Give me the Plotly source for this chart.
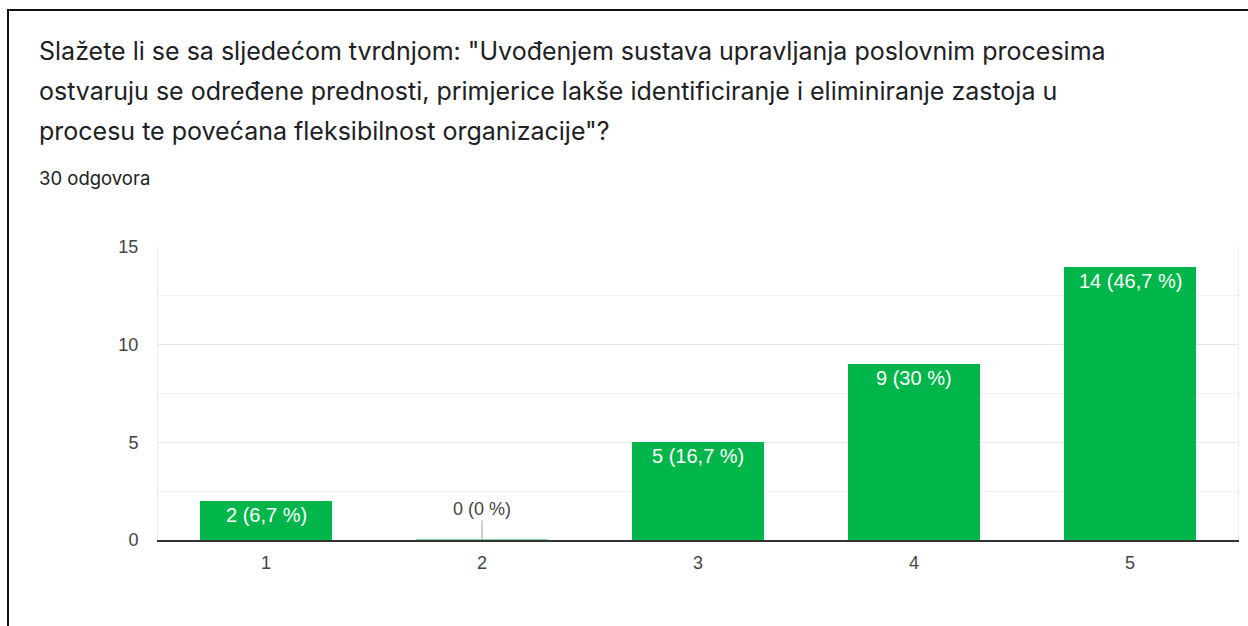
import plotly.graph_objects as go

# Survey responses on a 1–5 agreement scale
categories = [1, 2, 3, 4, 5]
counts = [2, 0, 5, 9, 14]
y_ticks = [0, 5, 10, 15]

title_lines = [
    "Slažete li se sa sljedećom tvrdnjom: \"Uvođenjem sustava upravljanja poslovnim procesima",
    "ostvaruju se određene prednosti, primjerice lakše identificiranje i eliminiranje zastoja u",
    "procesu te povećana fleksibilnost organizacije\"?",
]
n_label = f"{sum(counts)} odgovora"

W, H = 1248, 626
L, R, T, B = 158, 10, 247, 86
PW, PH = W - L - R, H - T - B

GREEN = "#00b64a"
BAR_W = 0.61
CHART_FONT = "Liberation Sans, Arial"
HEAD_FONT = "Inter"


def px_x(px):
    return (px - L) / PW


def px_y(py):
    return (H - B - py) / PH


def pct_text(c, total):
    p = round(100 * c / total, 1)
    s = f"{p:.1f}".replace(".", ",")
    if s.endswith(",0"):
        s = s[:-2]
    return f"{c} ({s} %)"


total = sum(counts)

fig = go.Figure(
    go.Bar(
        x=categories,
        y=counts,
        width=BAR_W,
        marker=dict(color=GREEN, line=dict(width=0)),
        hoverinfo="skip",
    )
)

annotations = []
shapes = []
for c, v in zip(categories, counts):
    label = pct_text(v, total)
    if v > 0:
        annotations.append(dict(
            x=c, y=v, xref="x", yref="y", text=label, showarrow=False,
            yanchor="top", yshift=-1,
            font=dict(family=CHART_FONT, size=20, color="white"),
        ))
    else:
        annotations.append(dict(
            x=c, y=v, xref="x", yref="y", text=label, showarrow=True,
            arrowhead=0, arrowwidth=1, arrowcolor="#9e9e9e", ax=0, ay=-31,
            font=dict(family=CHART_FONT, size=18, color="#444444"),
        ))
        shapes.append(dict(
            type="line", xref="x", yref="y", x0=c - BAR_W / 2, x1=c + BAR_W / 2,
            y0=v, y1=v, line=dict(color=GREEN, width=1), layer="below",
        ))

# Question text and response count
for i, line in enumerate(title_lines):
    annotations.append(dict(
        x=px_x(37), y=px_y(51 + 40 * i), xref="paper", yref="paper",
        text=line, showarrow=False, xanchor="left", yanchor="middle",
        font=dict(family=HEAD_FONT, size=25, color="#202124"),
    ))
annotations.append(dict(
    x=px_x(37), y=px_y(178), xref="paper", yref="paper",
    text=n_label, showarrow=False, xanchor="left", yanchor="middle",
    font=dict(family=HEAD_FONT, size=18.5, color="#202124"),
))

# Card frame
shapes.append(dict(
    type="path", xref="paper", yref="paper",
    path=f"M {px_x(8)},{px_y(H + 20)} L {px_x(8)},{px_y(10)} L {px_x(W + 20)},{px_y(10)}",
    line=dict(color="#111111", width=2),
))

fig.update_layout(
    width=W, height=H,
    margin=dict(l=L, r=R, t=T, b=B, pad=0),
    paper_bgcolor="white", plot_bgcolor="white",
    showlegend=False,
    bargap=0,
    annotations=annotations,
    shapes=shapes,
    xaxis=dict(
        range=[0.5, 5.5], tickvals=categories, ticktext=[str(c) for c in categories],
        showgrid=False, zeroline=False,
        showline=True, linecolor="#333333", linewidth=1.5,
        ticks="", ticklabelstandoff=6,
        tickfont=dict(family=CHART_FONT, size=18, color="#444444"),
        fixedrange=True,
    ),
    yaxis=dict(
        range=[0, 15], tickvals=y_ticks,
        showgrid=True, gridcolor="#e6e6e6", gridwidth=1,
        minor=dict(dtick=2.5, tick0=0, showgrid=True, gridcolor="#f2f2f2", gridwidth=1),
        zeroline=False,
        showline=True, mirror=True, linecolor="#ececec", linewidth=1,
        ticks="", ticklabelstandoff=15,
        tickfont=dict(family=CHART_FONT, size=18, color="#444444"),
        fixedrange=True,
    ),
)

fig.write_html("out.html")
